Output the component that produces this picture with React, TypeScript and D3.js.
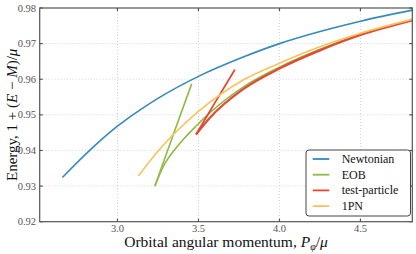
import { useEffect, useRef } from 'react';
import * as d3 from 'd3';

// values (L = P_phi/mu, E = 1 + (E - M)/mu)
const newtonL = [2.66, 2.84, 3.0, 3.14, 3.26, 3.5, 3.78, 4.0, 4.25, 4.5, 4.82];
const newtonE = [0.9324, 0.9405, 0.9468, 0.9514, 0.9549, 0.9608, 0.9663, 0.97, 0.9734, 0.9763, 0.9794];

const eobUnstableL = [3.231, 3.345, 3.458];
const eobUnstableE = [0.93, 0.9445, 0.9587];
const eobStableL = [3.231, 3.283, 3.365, 3.406, 3.489, 3.571, 3.776, 4.0, 4.25, 4.5, 4.82];
const eobStableE = [0.93, 0.9355, 0.9409, 0.9431, 0.947, 0.9506, 0.9578, 0.9634, 0.9684, 0.9726, 0.9767];

const tpUnstableL = [3.485, 3.6, 3.725];
const tpUnstableE = [0.9445, 0.9533, 0.9627];
const tpStableL = [3.485, 3.571, 3.776, 4.0, 4.25, 4.5, 4.82];
const tpStableE = [0.9445, 0.9492, 0.9572, 0.963, 0.9681, 0.9724, 0.9765];

const pn1L = [3.128, 3.258, 3.324, 3.365, 3.5, 3.776, 4.0, 4.25, 4.5, 4.82];
const pn1E = [0.9328, 0.9402, 0.9435, 0.9454, 0.951, 0.9598, 0.9645, 0.9691, 0.9729, 0.9768];

const xTicks = [3.0, 3.5, 4.0, 4.5];
const yTicks = [0.92, 0.93, 0.94, 0.95, 0.96, 0.97, 0.98];

const legendNames = ['Newtonian', 'EOB', 'test-particle', '1PN'];
const colors = ['#348ABD', '#8EBA42', '#E24A33', '#FBC15E'];

const W = 416;
const H = 254;
const font = '"Liberation Serif", "DejaVu Serif", serif';

export default function App() {
  const ref = useRef<SVGSVGElement | null>(null);

  useEffect(() => {
    const svg = d3.select(ref.current);
    svg.selectAll('*').remove();

    const x = d3.scaleLinear().domain([2.52, 4.82]).range([39.7, 412.3]);
    const y = d3.scaleLinear().domain([0.92, 0.98]).range([221.7, 8]);
    const [x0, x1] = x.range();
    const [y1, y0] = y.range();

    svg.append('rect').attr('width', W).attr('height', H).attr('fill', '#fff');

    // dotted grid
    const grid = svg.append('g').attr('stroke', '#c8c8c8').attr('stroke-width', 0.8).attr('stroke-dasharray', '1,2');
    grid.selectAll('.gx').data(xTicks).join('line')
      .attr('x1', (d) => x(d)).attr('x2', (d) => x(d)).attr('y1', y0).attr('y2', y1);
    grid.selectAll('.gy').data(yTicks.slice(1, -1)).join('line')
      .attr('x1', x0).attr('x2', x1).attr('y1', (d) => y(d)).attr('y2', (d) => y(d));

    const line = (L: number[], E: number[]) =>
      d3.line<number>().x((d) => x(d)).y((_, i) => y(E[i])).curve(d3.curveMonotoneX)(L);

    const plot = svg.append('g').attr('fill', 'none').attr('stroke-linecap', 'butt');
    plot.append('path').attr('d', line(newtonL, newtonE)).attr('stroke', colors[0]).attr('stroke-width', 1.6);
    plot.append('path').attr('d', line(eobUnstableL, eobUnstableE)).attr('stroke', colors[1]).attr('stroke-width', 1.6);
    plot.append('path').attr('d', line(eobStableL, eobStableE)).attr('stroke', colors[1]).attr('stroke-width', 1.6);
    plot.append('path').attr('d', line(tpUnstableL, tpUnstableE)).attr('stroke', colors[2]).attr('stroke-width', 1.8);
    plot.append('path').attr('d', line(tpStableL, tpStableE)).attr('stroke', colors[2]).attr('stroke-width', 2.2);
    plot.append('path').attr('d', line(pn1L, pn1E)).attr('stroke', colors[3]).attr('stroke-width', 1.6);

    // frame with inward ticks
    const frame = svg.append('g').attr('stroke', '#555').attr('stroke-width', 1.2).attr('fill', 'none');
    frame.append('rect').attr('x', x0).attr('y', y0).attr('width', x1 - x0).attr('height', y1 - y0);
    xTicks.forEach((t) => {
      frame.append('line').attr('x1', x(t)).attr('x2', x(t)).attr('y1', y1).attr('y2', y1 - 3);
      frame.append('line').attr('x1', x(t)).attr('x2', x(t)).attr('y1', y0).attr('y2', y0 + 3);
    });
    yTicks.forEach((t) => {
      frame.append('line').attr('x1', x0).attr('x2', x0 + 3).attr('y1', y(t)).attr('y2', y(t));
      frame.append('line').attr('x1', x1).attr('x2', x1 - 3).attr('y1', y(t)).attr('y2', y(t));
    });

    const tickText = svg.append('g').attr('font-family', font).attr('font-size', 10.5).attr('fill', '#555');
    tickText.selectAll('.xt').data(xTicks).join('text')
      .attr('x', (d) => x(d)).attr('y', 232).attr('text-anchor', 'middle')
      .text((d) => d3.format('.1f')(d));
    tickText.selectAll('.yt').data(yTicks).join('text')
      .attr('x', 36).attr('y', (d) => y(d) + 3.5).attr('text-anchor', 'end')
      .text((d) => d3.format('.2f')(d));

    // axis labels
    const xl = svg.append('text').attr('font-family', font).attr('font-size', 15.5).attr('fill', '#111')
      .attr('x', (x0 + x1) / 2).attr('y', 247).attr('text-anchor', 'middle');
    xl.append('tspan').text('Orbital angular momentum, ');
    xl.append('tspan').attr('font-style', 'italic').text('P');
    xl.append('tspan').attr('font-style', 'italic').attr('font-size', 10).attr('dy', 3).text('φ');
    xl.append('tspan').attr('dy', -3).text('/');
    xl.append('tspan').attr('font-style', 'italic').text('μ');

    const yl = svg.append('text').attr('font-family', font).attr('font-size', 15).attr('fill', '#111')
      .attr('text-anchor', 'middle')
      .attr('transform', `translate(17,${(y0 + y1) / 2}) rotate(-90)`);
    yl.append('tspan').text('Energy, 1 + (');
    yl.append('tspan').attr('font-style', 'italic').text('E');
    yl.append('tspan').text(' − ');
    yl.append('tspan').attr('font-style', 'italic').text('M');
    yl.append('tspan').text(')/');
    yl.append('tspan').attr('font-style', 'italic').text('μ');

    // legend
    const lg = svg.append('g').attr('transform', 'translate(306,150)');
    lg.append('rect').attr('width', 104.5).attr('height', 66).attr('rx', 3)
      .attr('fill', '#fff').attr('stroke', '#444').attr('stroke-width', 1);
    legendNames.forEach((name, i) => {
      const ly = 9 + i * 15.7;
      lg.append('line').attr('x1', 6.7).attr('x2', 23.3).attr('y1', ly).attr('y2', ly)
        .attr('stroke', colors[i]).attr('stroke-width', 1.8);
      lg.append('text').attr('x', 35.7).attr('y', ly + 4).attr('font-family', font)
        .attr('font-size', 12).attr('fill', '#111').text(name);
    });
  }, []);

  return (
    <svg ref={ref} width={W} height={H} style={{ position: 'absolute', left: 0, top: 0 }} />
  );
}
